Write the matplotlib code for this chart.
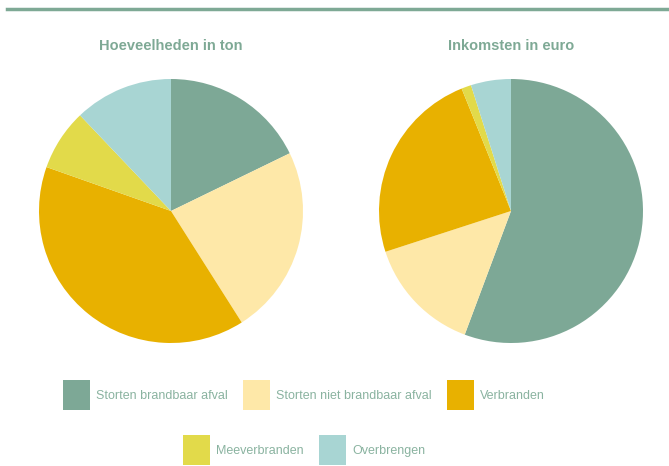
import matplotlib
matplotlib.use("Agg")
from matplotlib import pyplot as plt
from matplotlib.patches import Patch
from matplotlib.lines import Line2D

# data
categories = ["Storten brandbaar afval", "Storten niet brandbaar afval", "Verbranden",
              "Meeverbranden", "Overbrengen"]
hoeveelheden = [17.8, 23.2, 39.4, 7.5, 12.1]
inkomsten = [55.7, 14.3, 23.9, 1.2, 4.9]
titles = ["Hoeveelheden in ton", "Inkomsten in euro"]

colors = ["#7da896", "#fee8a8", "#e8b100", "#e2da4a", "#a8d5d3"]
title_color = "#7ea995"
text_color = "#8ab3a0"

plt.rcParams['font.family'] = ['Liberation Sans', 'DejaVu Sans']

fig = plt.figure(figsize=(6.69, 4.66), dpi=100)

# top rule
fig.add_artist(Line2D([7/669, 1.0], [1 - 9/466, 1 - 9/466], color=title_color, lw=2.5))

W, H = 669, 466
r = 132
for cx, vals, title in [(171, hoeveelheden, titles[0]), (511, inkomsten, titles[1])]:
    ax = fig.add_axes([(cx - r)/W, (H - 211 - r)/H, 2*r/W, 2*r/H])
    ax.pie(vals, colors=colors, startangle=90, counterclock=False,
           wedgeprops={'linewidth': 0})
    ax.set_xlim(-1, 1)
    ax.set_ylim(-1, 1)
    ax.set_aspect('equal')
    fig.text(cx/W, 1 - 46/H, title, ha='center', va='center',
             fontsize=10.5, fontweight='bold', color=title_color)

handles = [Patch(facecolor=c, edgecolor='none') for c in colors]

kw = dict(frameon=False, fontsize=9, handlelength=2.16, handleheight=3.3,
          handletextpad=0.5, columnspacing=1.2, labelcolor=text_color,
          borderpad=0, borderaxespad=0)
leg1 = fig.legend(handles[:3], categories[:3], ncol=3, loc='center',
                  bbox_to_anchor=(304/W, 1 - 395/H), **kw)
leg2 = fig.legend(handles[3:], categories[3:], ncol=2, loc='center',
                  bbox_to_anchor=(304/W, 1 - 450/H), **kw)

fig.savefig("out.png", dpi=100)
